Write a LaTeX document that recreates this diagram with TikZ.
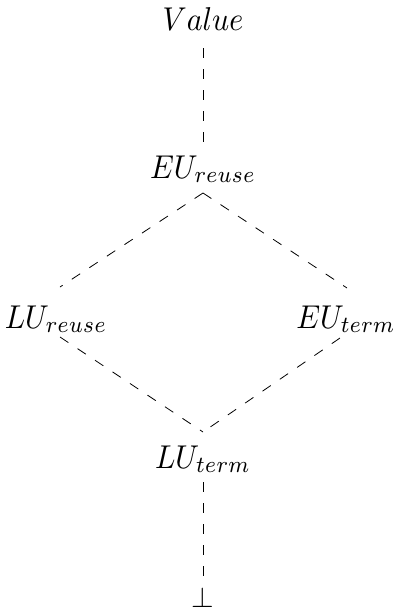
\documentclass[tikz,border=0pt]{standalone}
\begin{document}
\begin{tikzpicture}[x=1pt,y=-1pt,
  lbl/.style={inner sep=0pt, xscale=3.0, yscale=3.3, anchor=base},
  conn/.style={line width=0.8pt, dash pattern=on 10pt off 11pt}]
\useasboundingbox (0,0) rectangle (395,614);
\node[lbl] (v) at (203,30) {$Value$};
\node[lbl] (eur) at (203,178) {$EU_{reuse}$};
\node[lbl] (lur) at (56,328) {$LU_{reuse}$};
\node[lbl] (eut) at (346,328) {$EU_{term}$};
\node[lbl] (lut) at (203,468) {$LU_{term}$};
\node[inner sep=0pt, scale=2.9, anchor=base] (bot) at (203,607) {$\bot$};
\draw[conn] ([yshift=-18pt]v.base) -- ([yshift=35pt]eur.base);
\draw[conn] ([yshift=-15pt]eur.base) -- ([shift={(4pt,41pt)}]lur.base);
\draw[conn] ([yshift=-15pt]eur.base) -- ([shift={(1pt,40pt)}]eut.base);
\draw[conn] ([shift={(4pt,-9pt)}]lur.base) -- ([yshift=36pt]lut.base);
\draw[conn] ([shift={(-6pt,-10pt)}]eut.base) -- ([yshift=36pt]lut.base);
\draw[conn] ([yshift=-14pt]lut.base) -- (bot.north);
\end{tikzpicture}
\end{document}
